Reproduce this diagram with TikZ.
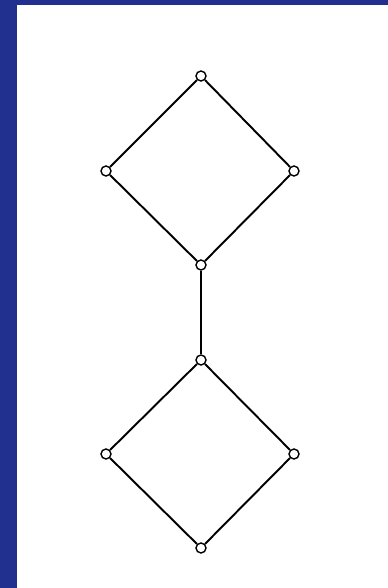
\documentclass[tikz,border=0pt]{standalone}
\usepackage{tikz}
\usetikzlibrary{backgrounds}
\definecolor{frameblue}{HTML}{21308E}
\tikzset{
  % gitter
  lv/.style={circle,draw=black,fill=white,line width=0.8pt,inner sep=0pt,
             minimum size=2mm},
  le/.style={draw=black,line width=1.1pt},
  lk/.style={draw=black,line width=0.8pt},
}
\begin{document}
\begin{tikzpicture}[x={(0.02cm,0)},y={(0,-0.02cm)}]
  \useasboundingbox (0,0) rectangle (388,588);
  \node[lv] (t1) at (201,76) {};
  \node[lv] (l1) at (106,171) {};
  \node[lv] (r1) at (294,171) {};
  \node[lv] (b1) at (201,265) {};
  \node[lv] (t2) at (201,360) {};
  \node[lv] (l2) at (106,454) {};
  \node[lv] (r2) at (294,454) {};
  \node[lv] (b2) at (201,548) {};
  \begin{scope}[on background layer]
  \fill[frameblue] (0,0) rectangle (388,588);
  \fill[white] (17,5) rectangle (388,588);
  \draw[le] (t1) -- (l1) -- (b1) -- (r1) -- (t1);
  \draw[lk] (b1) -- (t2);
  \draw[le] (t2) -- (l2) -- (b2) -- (r2) -- (t2);
  \end{scope}
\end{tikzpicture}
\end{document}
